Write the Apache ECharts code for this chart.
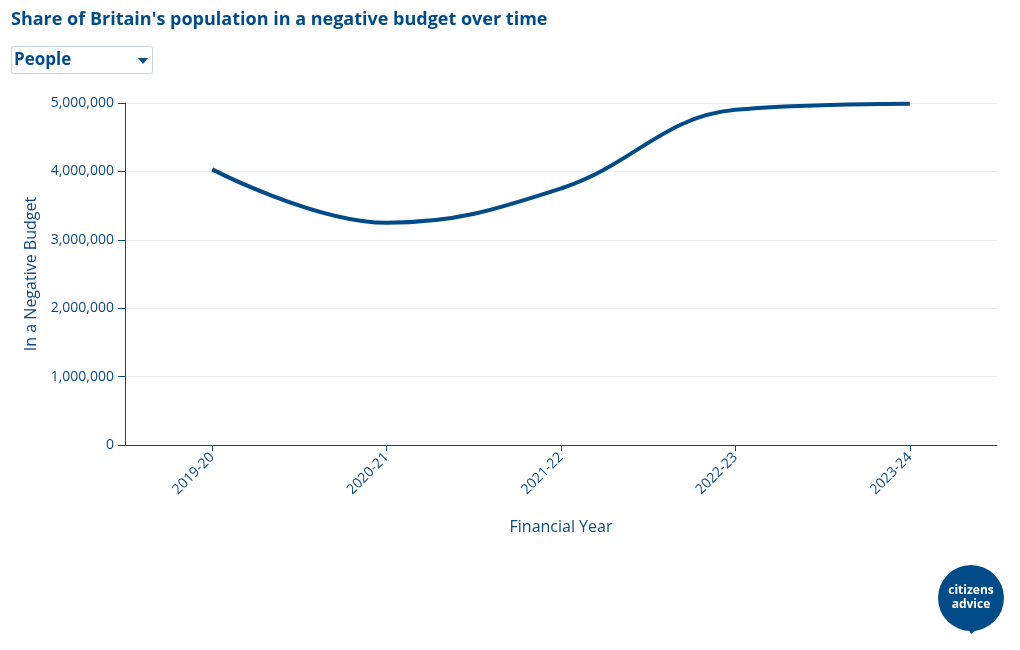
<!DOCTYPE html>
<html>
<head>
<meta charset="utf-8">
<script src="https://cdn.jsdelivr.net/npm/echarts@6/dist/echarts.min.js"></script>
<style>html,body{margin:0;padding:0;background:#fff}#c{width:1020px;height:650px}</style>
</head>
<body>
<div id="c"></div>
<script>
var categories = ['2019-20', '2020-21', '2021-22', '2022-23', '2023-24'];
var people = [4030000, 3250000, 3750000, 4900000, 4990000];
var yTicks = [0, 1000000, 2000000, 3000000, 4000000, 5000000];

var navy = '#004b88';
var textCol = '#0d4a7e';
var chart = echarts.init(document.getElementById('c'), null, {renderer: 'canvas'});
chart.setOption({
  animation: false,
  backgroundColor: '#fff',
  textStyle: {fontFamily: 'Open Sans'},
  title: {
    text: "Share of Britain's population in a negative budget over time",
    left: 11, top: 11, padding: 0,
    textStyle: {fontFamily: 'Open Sans', fontSize: 18, fontWeight: 'bold', color: navy}
  },
  grid: {left: 125, right: 23, top: 103, bottom: 205, containLabel: false},
  xAxis: {
    type: 'category',
    data: categories,
    boundaryGap: true,
    name: 'Financial Year',
    nameLocation: 'middle',
    nameGap: 74,
    nameTextStyle: {fontSize: 16, color: textCol, fontFamily: 'Open Sans'},
    axisLine: {lineStyle: {color: navy, width: 1}},
    axisTick: {show: true, alignWithLabel: true, length: 6, lineStyle: {color: navy}},
    axisLabel: {rotate: 45, fontSize: 14, color: textCol, margin: 10, fontFamily: 'Open Sans'},
    splitLine: {show: false}
  },
  yAxis: {
    type: 'value',
    min: yTicks[0],
    max: yTicks[yTicks.length - 1],
    interval: 1000000,
    name: 'In a Negative Budget',
    nameLocation: 'middle',
    nameGap: 86,
    nameTextStyle: {fontSize: 16, color: textCol, fontFamily: 'Open Sans'},
    axisLine: {show: true, lineStyle: {color: navy, width: 1}},
    axisTick: {show: true, length: 7, lineStyle: {color: navy}},
    axisLabel: {
      fontSize: 14, color: textCol, margin: 11, fontFamily: 'Open Sans',
      formatter: function (v) { return v.toLocaleString('en-GB'); }
    },
    splitLine: {lineStyle: {color: '#eeeeee', width: 1}}
  },
  series: [{
    type: 'line',
    data: people,
    smooth: 0.4,
    symbol: 'none',
    lineStyle: {color: navy, width: 4, cap: 'butt'}
  }],
  graphic: [
    {type: 'rect', shape: {x: 11.5, y: 46.5, width: 141, height: 27, r: 2},
     style: {fill: '#fff', stroke: '#c8d3de', lineWidth: 1}},
    {type: 'text', left: 14, top: 52,
     style: {text: 'People', font: 'bold 17px "Open Sans"', fill: navy}},
    {type: 'polygon', shape: {points: [[138, 58], [148, 58], [143, 64]]},
     style: {fill: navy}},
    {type: 'group', left: 938, top: 565, children: [
      {type: 'circle', shape: {cx: 33, cy: 33, r: 33}, style: {fill: navy}},
      {type: 'polygon', shape: {points: [[28, 60], [50, 56], [33, 69]]}, style: {fill: navy}},
      {type: 'text', style: {text: 'citizens', x: 33, y: 26, align: 'center', verticalAlign: 'middle',
        font: 'bold 12px "Open Sans"', fill: '#fff'}},
      {type: 'text', style: {text: 'advice', x: 33, y: 40, align: 'center', verticalAlign: 'middle',
        font: 'bold 12px "Open Sans"', fill: '#fff'}}
    ]}
  ]
});
</script>
</body>
</html>
